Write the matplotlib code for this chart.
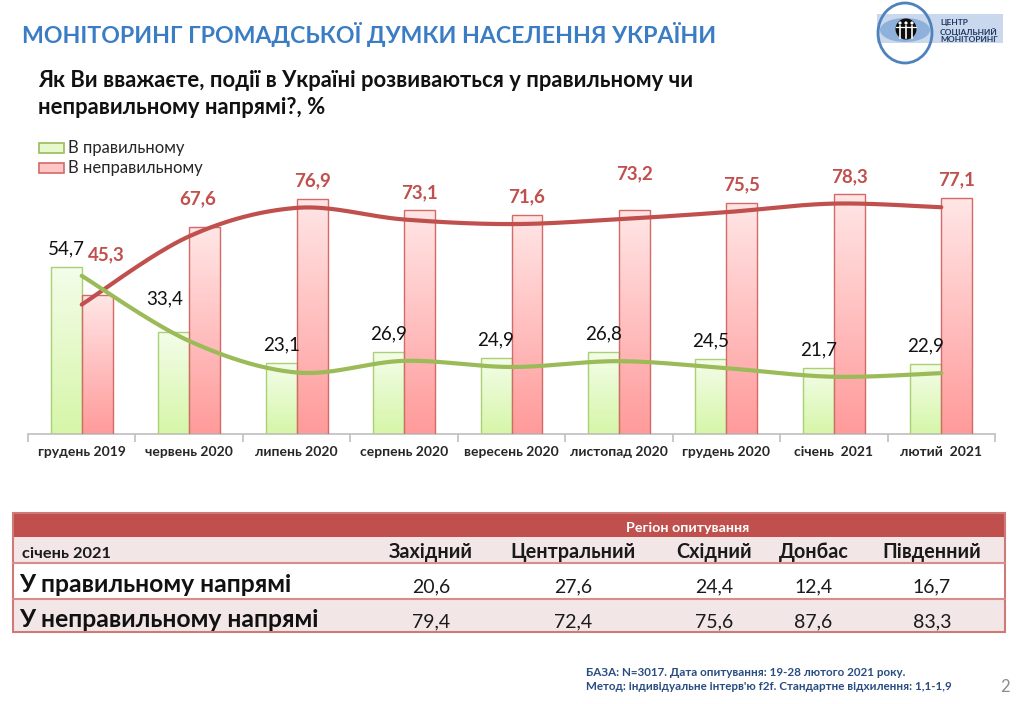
import numpy as np
import matplotlib
matplotlib.use('Agg')
import matplotlib.pyplot as plt
from matplotlib.colors import LinearSegmentedColormap
from matplotlib.patches import Rectangle, Ellipse, Circle

FONT = ['Lato', 'DejaVu Sans']
plt.rcParams['font.family'] = FONT

# ---------------- data ----------------
title = "МОНІТОРИНГ ГРОМАДСЬКОЇ ДУМКИ НАСЕЛЕННЯ УКРАЇНИ"
question = ["Як Ви вважаєте, події в Україні розвиваються у правильному чи",
            "неправильному напрямі?, %"]
periods = ["грудень 2019", "червень 2020", "липень 2020", "серпень 2020",
           "вересень 2020", "листопад 2020", "грудень 2020", "січень  2021",
           "лютий  2021"]
series_names = ["В правильному", "В неправильному"]
right_dir = [54.7, 33.4, 23.1, 26.9, 24.9, 26.8, 24.5, 21.7, 22.9]
wrong_dir = [45.3, 67.6, 76.9, 73.1, 71.6, 73.2, 75.5, 78.3, 77.1]

table_period = "січень 2021"
table_group = "Регіон опитування"
regions = ["Західний", "Центральний", "Східний", "Донбас", "Південний"]
row_labels = ["У правильному напрямі", "У неправильному напрямі"]
region_right = [20.6, 27.6, 24.4, 12.4, 16.7]
region_wrong = [79.4, 72.4, 75.6, 87.6, 83.3]

footer = ["БАЗА: N=3017. Дата опитування: 19-28 лютого 2021 року.",
          "Метод: індивідуальне інтерв'ю f2f. Стандартне відхилення: 1,1-1,9"]
page_no = "2"
logo_lines = ["ЦЕНТР", "СОЦІАЛЬНИЙ", "МОНІТОРИНГ"]

# ---------------- style ----------------
GREEN_LINE = '#9BBB59'
RED_LINE = '#C0504D'
GREEN_TOP, GREEN_BOT, GREEN_EDGE = '#F4FDEA', '#D6F6A8', '#A9D173'
RED_TOP, RED_BOT, RED_EDGE = '#FFE6E6', '#FF9A9A', '#D46A68'

# label nudges (pixels) for a few manually-placed labels
green_nudge = {1: (-9, 15)}
red_nudge = {0: (9, 23), 1: (-7, 10), 5: (0, 18)}


def fmt(v):
    return f"{v:.1f}".replace('.', ',')


def smooth(xs, ys, n=40):
    P = np.column_stack([xs, ys]).astype(float)
    out = []
    for i in range(len(P) - 1):
        p0 = P[i - 1] if i > 0 else P[i]
        p1, p2 = P[i], P[i + 1]
        p3 = P[i + 2] if i + 2 < len(P) else P[i + 1]
        c1 = p1 + (p2 - p0) / 6.0
        c2 = p2 - (p3 - p1) / 6.0
        t = np.linspace(0, 1, n)[:, None]
        seg = ((1 - t) ** 3) * p1 + 3 * ((1 - t) ** 2) * t * c1 + 3 * (1 - t) * t ** 2 * c2 + t ** 3 * p2
        out.append(seg if i == 0 else seg[1:])
    S = np.vstack(out)
    return S[:, 0], S[:, 1]


W, H = 1024, 704
fig = plt.figure(figsize=(W / 100, H / 100), dpi=100)

# ---------------- chart ----------------
ax_l, ax_r, ax_b, ax_t = 28, 995, 434, 128
ax = fig.add_axes([ax_l / W, (H - ax_b) / H, (ax_r - ax_l) / W, (ax_b - ax_t) / H])
n = len(periods)
xc = np.arange(n) + 0.5
bw = 0.288

gb = ax.bar(xc - bw / 2, right_dir, bw, facecolor='none', edgecolor=GREEN_EDGE, lw=1.0, zorder=3)
rb = ax.bar(xc + bw / 2, wrong_dir, bw, facecolor='none', edgecolor=RED_EDGE, lw=1.0, zorder=3)

grad = np.linspace(0, 1, 256).reshape(-1, 1)
for bars, top, bot in ((gb, GREEN_TOP, GREEN_BOT), (rb, RED_TOP, RED_BOT)):
    cmap = LinearSegmentedColormap.from_list('g', [top, bot])
    for b in bars:
        x0, w, h = b.get_x(), b.get_width(), b.get_height()
        im = ax.imshow(grad, extent=[x0, x0 + w, 0, h], origin='upper', aspect='auto',
                       cmap=cmap, zorder=2, interpolation='bilinear')
        im.set_clip_path(b)

ax.set_xlim(0, n)
ax.set_ylim(0, 100)

for i, v in enumerate(right_dir):
    dx, dy = green_nudge.get(i, (0, 0))
    ax.annotate(fmt(v), xy=(xc[i] - bw / 2, v), xytext=(dx, 18 + dy), textcoords='offset pixels',
                ha='center', va='center', fontsize=13.5, color='#111111', zorder=6)
for i, v in enumerate(wrong_dir):
    dx, dy = red_nudge.get(i, (0, 0))
    ax.annotate(fmt(v), xy=(xc[i] + bw / 2, v), xytext=(dx, 18 + dy), textcoords='offset pixels',
                ha='center', va='center', fontsize=13.5, fontweight='bold', color=RED_LINE, zorder=6)

for s in ('left', 'right', 'top'):
    ax.spines[s].set_visible(False)
ax.spines['bottom'].set_color('#BFBFBF')
ax.spines['bottom'].set_linewidth(1.2)
ax.set_yticks([])
ax.set_xticks(xc)
ax.set_xticklabels(periods, fontsize=10, fontweight='bold', color='#262626')
ax.set_xticks(np.arange(n + 1), minor=True)
ax.tick_params(axis='x', which='major', length=0, pad=9)
ax.tick_params(axis='x', which='minor', length=6, color='#BFBFBF', width=1.2)
ax.patch.set_alpha(0)

ax2 = ax.twinx()
ax2.set_ylim(3, 103)
ax2.set_xlim(0, n)
ax2.axis('off')
sx, sy = smooth(xc, wrong_dir)
ax2.plot(sx, sy, color=RED_LINE, lw=3, solid_capstyle='round')
sx, sy = smooth(xc, right_dir)
ax2.plot(sx, sy, color=GREEN_LINE, lw=3, solid_capstyle='round')

# ---------------- overlay (pixel coords) ----------------
ov = fig.add_axes([0, 0, 1, 1])
ov.set_xlim(0, W)
ov.set_ylim(H, 0)
ov.axis('off')

ov.text(22, 43, title, fontsize=16.7, fontweight='bold', color='#3B7DC4', va='baseline')
ov.text(38, 87, question[0], fontsize=15.8, fontweight='bold', color='#111111', va='baseline')
ov.text(38, 114, question[1], fontsize=15.8, fontweight='bold', color='#111111', va='baseline')

# legend
leg_cols = [('#E6F8CC', GREEN_LINE), ('#FFC6C6', RED_EDGE)]
for i, name in enumerate(series_names):
    fc, ec = leg_cols[i]
    ov.add_patch(Rectangle((39, 143 + 20 * i), 25, 10, facecolor=fc, edgecolor=ec, lw=1.2))
    ov.text(68, 148 + 20 * i, name, fontsize=12, color='#262626', va='center')

# table
tl, tr = 12.7, 1004.7
rows_y = [513.3, 537.3, 563.3, 599.3, 631.7]
ov.add_patch(Rectangle((tl, rows_y[0]), tr - tl, rows_y[1] - rows_y[0], facecolor='#C0504D', edgecolor='none'))
ov.add_patch(Rectangle((tl, rows_y[1]), tr - tl, rows_y[2] - rows_y[1], facecolor='#F2E6E6', edgecolor='none'))
ov.add_patch(Rectangle((tl, rows_y[2]), tr - tl, rows_y[3] - rows_y[2], facecolor='white', edgecolor='none'))
ov.add_patch(Rectangle((tl, rows_y[3]), tr - tl, rows_y[4] - rows_y[3], facecolor='#F2E6E6', edgecolor='none'))
for yy in rows_y[2:4]:
    ov.plot([tl, tr], [yy, yy], color='#D98C8A', lw=1.5)
ov.add_patch(Rectangle((tl, rows_y[0]), tr - tl, rows_y[4] - rows_y[0], facecolor='none',
                       edgecolor='#D07A78', lw=1.5))
col_x = [431, 573, 714.5, 813.5, 932]
ov.text(688, 531.5, table_group, fontsize=10.3, fontweight='bold', color='white', ha='center', va='baseline')
ov.text(22, 557.5, table_period, fontsize=11.8, fontweight='bold', color='#1A1A1A', va='baseline')
for cx, r in zip(col_x, regions):
    ov.text(cx, 558, r, fontsize=14.2, fontweight='bold', color='#1A1A1A', ha='center', va='baseline')
for yb, lab, vals in ((592, row_labels[0], region_right), (627, row_labels[1], region_wrong)):
    ov.text(19, yb, lab, fontsize=17.8, fontweight='bold', color='#111111', va='baseline')
    for cx, v in zip(col_x, vals):
        ov.text(cx, yb, fmt(v), fontsize=14, color='#1A1A1A', ha='center', va='baseline')

# footer
ov.text(586, 672, footer[0], fontsize=8.4, fontweight='bold', color='#2A4D80', va='center')
ov.text(586, 687, footer[1], fontsize=8.4, fontweight='bold', color='#2A4D80', va='center')
ov.text(1005, 687, page_no, fontsize=12, color='#8C8C8C', ha='center', va='center')

# logo
ov.add_patch(Rectangle((877, 14), 126, 29, facecolor='#C9D8EC', edgecolor='none'))
ov.add_patch(Ellipse((905, 30), 50, 24, facecolor='#8EB1DC', edgecolor='none'))
ov.add_patch(Ellipse((905, 33), 54, 60, facecolor='none', edgecolor='#4F81BD', lw=2))
ov.add_patch(Circle((906, 29), 10.5, facecolor='#0D0D0D', edgecolor='none'))
for fxp in (900, 906, 912):
    ov.plot([fxp, fxp], [26, 38], color='white', lw=1.2)
    ov.add_patch(Circle((fxp, 23), 1.6, facecolor='white', edgecolor='none'))
ov.plot([896, 916], [27, 27], color='white', lw=0.9)
for i, t in enumerate(logo_lines):
    ov.text(940, 23 + 8.5 * i, t, fontsize=6, fontweight='bold', color='#1F3864', va='center')

fig.savefig('out.png', dpi=100)
